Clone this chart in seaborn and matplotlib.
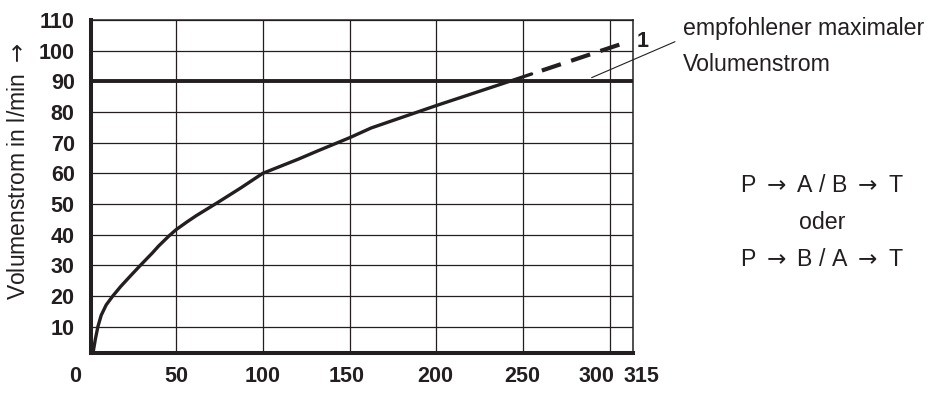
import matplotlib
matplotlib.use("Agg")
import matplotlib.pyplot as plt
import seaborn as sns
from matplotlib.transforms import blended_transform_factory

# ---------------- data ----------------
druck_bar = [2.3, 3.5, 5.0, 6.9, 9.8, 13.6, 18.3, 25.0, 29.5, 36.5, 40.0,
             46.0, 50.0, 56.2, 61.7, 73.8, 87.5, 100.0, 120.4, 131.6, 150.0,
             162.5, 200.0, 242.2, 254.9]
volumenstrom = [1.8, 5.8, 10.0, 13.7, 17.1, 20.0, 23.2, 27.3, 30.0, 34.1, 36.3,
                39.6, 41.6, 44.1, 46.2, 50.4, 55.3, 60.0, 64.6, 67.3, 71.6,
                74.8, 82.1, 90.0, 92.4]
druck_extrapoliert = [254.9, 310.4]
volumenstrom_extrapoliert = [92.4, 102.9]
max_volumenstrom = 90

x_grid = [50, 100, 150, 200, 250, 300]
x_tick_labels = ["0", "50", "100", "150", "200", "250", "300", "315"]
y_ticks = [10, 20, 30, 40, 50, 60, 70, 80, 90, 100, 110]
y_tick_labels = [str(v) for v in y_ticks]

ARROW = r"$\rightarrow$"
x_label = "Ventildruckdifferenz in bar " + ARROW
y_label = "Volumenstrom in l/min " + ARROW
note_lines = ["empfohlener maximaler", "Volumenstrom"]
flow_lines = ["P " + ARROW + " A / B " + ARROW + " T", "oder",
              "P " + ARROW + " B / A " + ARROW + " T"]

# ---------------- style ----------------
sns.set_theme(style="white")
plt.rcParams["font.family"] = ["Liberation Sans", "DejaVu Sans"]
plt.rcParams["mathtext.fontset"] = "dejavusans"
INK = "#231f20"
BOLD = ["Liberation Sans Narrow", "Liberation Sans", "DejaVu Sans"]
TICK_FS = 15.5

W, H = 932, 420
fig = plt.figure(figsize=(W / 100, H / 100), dpi=100)
ax = fig.add_axes([91.3 / W, (H - 352.7) / H, (633.3 - 91.3) / W, (352.7 - 20) / H])

ax.set_xlim(1.2, 313.5)
ax.set_ylim(1.5, 110)

# grid
ax.set_xticks(x_grid)
ax.set_yticks(y_ticks)
ax.grid(True, color=INK, lw=0.9)
ax.set_axisbelow(True)
ax.tick_params(axis="both", length=0)
ax.tick_params(axis="x", labelbottom=False)
ax.set_yticklabels(y_tick_labels, fontsize=TICK_FS, fontweight="bold",
                   family=BOLD, color=INK)
ax.tick_params(axis="y", pad=12)

for side in ["left", "bottom"]:
    ax.spines[side].set_linewidth(2.9)
    ax.spines[side].set_color(INK)
for side in ["top", "right"]:
    ax.spines[side].set_linewidth(1.1)
    ax.spines[side].set_color(INK)
    ax.spines[side].set_visible(True)

# recommended max line
ax.axhline(max_volumenstrom, color=INK, lw=2.8, zorder=2)

# curve
sns.lineplot(x=druck_bar, y=volumenstrom, ax=ax, color=INK, lw=2.4,
             sort=False, estimator=None, zorder=3)
sns.lineplot(x=druck_extrapoliert, y=volumenstrom_extrapoliert, ax=ax,
             color=INK, lw=3.0, sort=False, estimator=None, zorder=3,
             linestyle=(4.8, (4.8, 2.6)))

# x tick labels (custom positions)
x_label_pos = [-8.2, 50, 100, 148.5, 199.4, 249.8, 292.5, 318.4]
trans = blended_transform_factory(ax.transData, ax.transAxes)
for pos, lab in zip(x_label_pos, x_tick_labels):
    ax.text(pos, -0.072, lab, transform=trans, ha="center", va="center",
            fontsize=TICK_FS, fontweight="bold", family=BOLD, color=INK,
            clip_on=False)

# axis labels
ax.set_xlabel(x_label, fontsize=16.5, color=INK, ha="center", va="center")
ax.xaxis.set_label_coords(0.4745, -0.163)
ax.set_ylabel(y_label, fontsize=16.5, color=INK, ha="center", va="center",
              rotation=90)
ax.yaxis.set_label_coords(-0.135, 0.544)

# marker "1" and leader line
fig.text(642.5 / W, 1 - 47.3 / H, "1", ha="center", va="baseline",
         fontsize=TICK_FS, fontweight="bold", family=BOLD, color=INK)
ax.annotate("", xy=(289.5, 91.2), xycoords="data",
            xytext=(675, H - 41.7), textcoords="figure pixels",
            arrowprops=dict(arrowstyle="-", color=INK, lw=0.8,
                            shrinkA=0, shrinkB=0))
for txt, base in zip(note_lines, [35, 71]):
    fig.text(683 / W, 1 - base / H, txt, ha="left", va="baseline",
             fontsize=16.7, color=INK)

for txt, base in zip(flow_lines, [191.7, 229, 266]):
    fig.text(821.7 / W, 1 - base / H, txt, ha="center", va="baseline",
             fontsize=16.7, color=INK)

fig.savefig("out.png", dpi=100)
